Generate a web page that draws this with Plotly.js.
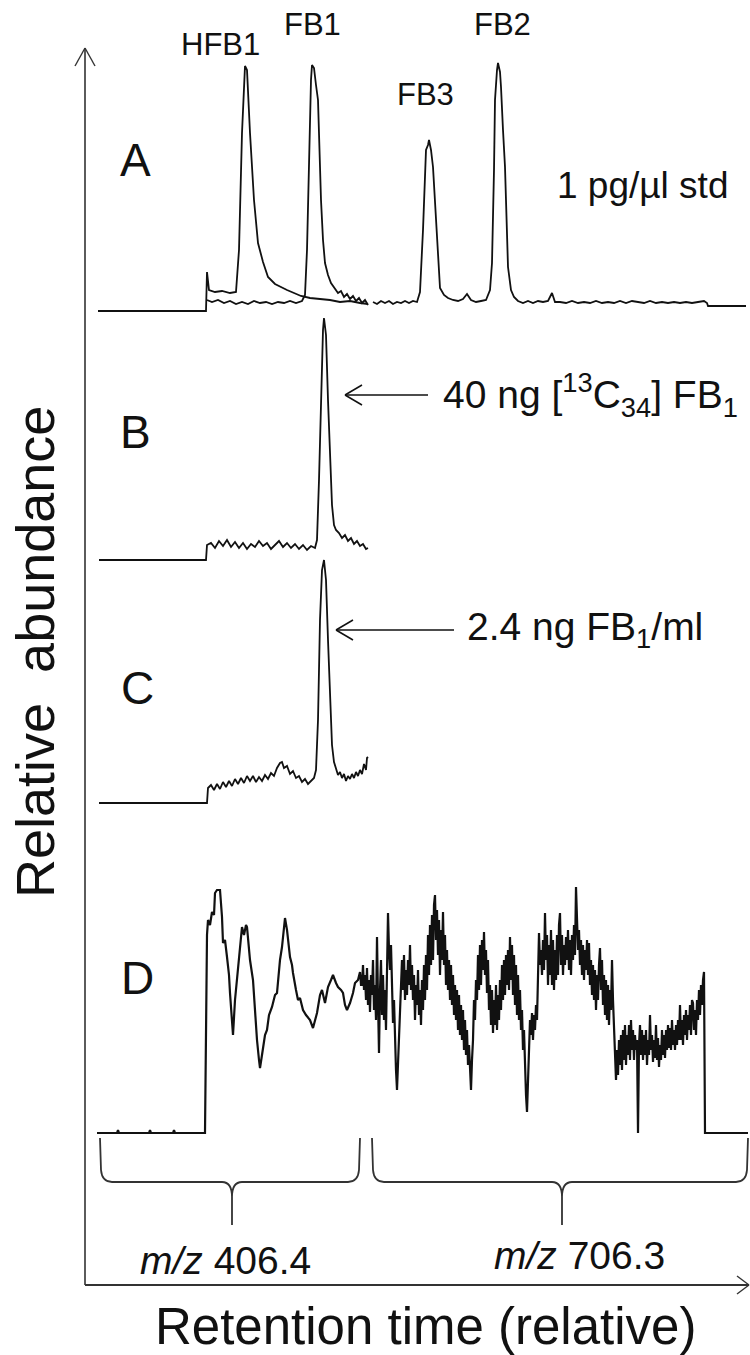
<!DOCTYPE html>
<html><head><meta charset="utf-8">
<script src="https://cdn.plot.ly/plotly-3.0.1.min.js"></script>
<style>html,body{margin:0;padding:0;background:#fff}#chart{width:750px;height:1355px}</style>
</head><body><div id="chart"></div>
<script>
// ---------- DATA (scan number vs. relative abundance, arbitrary units) ----------
// Panel A: 1 pg/µl standard, m/z 406.4 window (two channels) and m/z 706.3 window
const aHfb1Scan  = [13,121,122,124,130,137,145,151,154,157,160,162,165,169,173,178,183,190,202,210,216,225,235,245,255,265,275,283];
const aHfb1Abund = [0,0,39,21,19,20,18,19,61,178,245,241,178,111,68,49,34,27,21,18,15,13,12,11,9,10,8,7];

const aFb1Scan  = [122,127,133,139,145,151,157,163,169,175,181,187,193,199,205,211,217,220,222,224,226,227,229,231,233,236,238,240,243,246,250,253,256,259,262,265,268,271,274,277,280,283];
const aFb1Abund = [11,9,11,8,10,7,9,7,10,8,9,7,9,8,10,8,10,16,61,161,231,246,243,226,211,111,71,48,36,28,22,18,20,14,17,12,15,10,13,8,11,6];

const aFb23Scan  = [288,292,296,300,304,308,312,316,320,324,328,332,335,338,341,343,344,346,348,350,352,355,359,363,368,373,378,382,386,391,396,401,405,407,409,410,412,413,415,416,418,420,423,426,429,433,438,443,448,453,458,463,467,470,475,481,487,493,499,505,511,517,523,529,535,541,547,553,559,565,571,577,583,589,595,601,607,613,619,622,623,661];
const aFb23Abund = [9,7,10,8,10,7,9,8,10,8,10,9,19,81,161,166,171,161,144,111,71,23,16,13,11,10,12,17,11,9,10,11,21,48,141,211,241,248,239,224,181,144,44,21,14,10,8,10,8,10,9,10,18,9,9,8,10,8,9,8,10,8,9,8,10,8,10,9,8,10,8,9,8,9,8,9,8,9,10,8,5,5];

// Panel B: 40 ng [13C34] FB1
const bScan  = [14,121,122,126,130,134,138,142,146,150,154,158,162,166,170,174,178,182,186,190,194,198,202,206,210,214,218,222,226,230,232,234,236,238,239,241,243,245,247,249,251,254,257,260,263,266,269,272,275,278,281,283];
const bAbund = [0,0,15,17,12,19,14,20,13,18,12,17,11,16,13,19,14,17,11,15,19,13,17,12,16,11,15,10,14,12,20,80,170,230,242,225,160,100,55,35,30,27,22,25,19,22,16,19,14,16,11,12];

// Panel C: 2.4 ng FB1/ml sample
const cScan  = [14,122,123,126,129,132,135,138,141,144,147,150,153,156,159,162,165,168,171,174,177,180,183,186,189,192,195,197,199,202,205,208,211,214,217,220,223,226,229,231,233,235,237,239,241,243,245,247,249,251,253,255,257,259,261,263,265,267,269,271,273,275,277,279,281,282,283];
const cAbund = [0,0,15,18,13,19,14,21,16,22,17,24,19,25,20,27,22,27,21,26,22,28,24,30,27,35,40,41,35,37,29,32,25,27,21,24,19,22,25,33,83,183,233,243,223,163,103,58,41,33,28,31,25,29,22,27,24,29,25,31,27,33,29,39,33,45,46];

// Panel D: blank / matrix, both windows
const dScan  = [12,32,33,34,64,65,66,88,89,90,120,121,122,123,125,127,129,130,132,135,137,138,140,142,144,145,147,148,150,152,154,155,157,159,161,162,163,165,168,170,172,174,175,177,180,182,184,187,190,192,195,197,199,200,202,205,207,208,211,213,215,218,221,225,228,230,232,235,237,240,243,246,248,251,253,256,258,260,262,265,268,270,273,275,276];
const dAbund = [0,0,3,0,0,3,0,0,3,0,0,143,198,213,208,221,218,240,243,243,216,190,193,176,158,140,103,98,133,153,173,186,206,198,208,206,196,173,153,120,93,73,65,78,98,103,118,126,138,140,173,186,208,215,203,176,168,160,143,133,135,123,118,113,105,113,120,138,143,130,146,153,158,150,146,143,140,128,123,130,140,150,153,161,148];
const dDenseFirstScan = 277;   // consecutive scans from here
const dDenseAbund = [
148,168,143,158,133,165,128,153,121,158,
138,173,123,148,113,196,133,80,143,173,
118,158,113,143,103,173,220,183,163,188,
148,110,133,83,63,43,73,93,133,153,
173,143,178,133,163,138,173,148,188,143,
168,133,158,113,148,128,163,118,143,108,
153,123,168,133,178,143,198,158,208,168,
218,173,228,238,193,223,178,213,158,203,
173,221,168,198,148,183,143,173,133,168,
128,158,118,148,113,143,103,138,98,128,
93,123,83,113,78,103,68,88,53,43,
73,93,133,113,153,133,178,143,188,148,
193,163,201,158,183,140,173,123,148,108,
143,100,133,108,148,103,138,113,153,123,
168,133,173,138,178,148,183,143,196,153,
188,138,178,128,168,118,158,113,143,103,
123,83,103,58,38,21,53,93,113,98,
120,93,118,103,128,113,163,200,168,183,
158,193,163,220,173,198,148,188,158,203,
148,193,143,183,153,198,158,208,220,168,
198,158,188,168,196,173,203,163,193,158,
198,173,208,178,246,213,183,203,168,193,
158,188,153,183,163,193,158,190,148,173,
138,168,133,163,123,158,133,168,185,143,
173,128,158,118,153,113,148,108,143,123,
173,133,103,73,53,83,58,93,68,98,
63,103,73,108,68,98,78,108,73,113,
83,103,73,98,83,93,0,88,108,78,
103,73,98,78,103,68,93,78,118,83,
98,71,93,75,108,73,95,66,88,73,
103,78,98,75,103,83,108,85,105,83,
113,88,103,83,108,88,113,93,128,93,
113,88,118,98,123,93,118,103,128,98,
133,130,103,123,98,133,113,143,118,148,
128,153,161];
const dTailScan  = [620,663];
const dTailAbund = [0,0];

// Text labels
const peakLabels = ['HFB1','FB1','FB3','FB2'];
const panelLabels = ['A','B','C','D'];
const windowLabels = ['<i>m/z</i> 406.4','<i>m/z</i> 706.3'];

// ---------- LAYOUT GEOMETRY ----------
const W = 750, H = 1355;
const xp = px => px / W;
const yp = py => 1 - py / H;
const FONT = 'Liberation Sans, Arial, Helvetica, sans-serif';
const INK = '#111';

// baseline pixel row of each panel (1 abundance unit = 1 px)
const base = {A: 311, B: 560, C: 803, D: 1133};
function yAx(b, lo, hi) {
  return {domain: [yp(b - lo), yp(b - hi)], range: [lo, hi], visible: false, fixedrange: true, anchor: 'x'};
}

const dScanAll  = dScan.concat(dDenseAbund.map((_, i) => dDenseFirstScan + i), dTailScan);
const dAbundAll = dAbund.concat(dDenseAbund, dTailAbund);

const lineA = {color: INK, width: 1.8};
const traces = [
  {x: aHfb1Scan, y: aHfb1Abund, yaxis: 'y',  mode: 'lines', line: lineA, name: 'HFB1'},
  {x: aFb1Scan,  y: aFb1Abund,  yaxis: 'y',  mode: 'lines', line: lineA, name: 'FB1'},
  {x: aFb23Scan, y: aFb23Abund, yaxis: 'y',  mode: 'lines', line: lineA, name: 'FB3/FB2'},
  {x: bScan,     y: bAbund,     yaxis: 'y2', mode: 'lines', line: lineA, name: 'B'},
  {x: cScan,     y: cAbund,     yaxis: 'y3', mode: 'lines', line: lineA, name: 'C'},
  {x: dScanAll,  y: dAbundAll,  yaxis: 'y4', mode: 'lines', line: {color: INK, width: 2.2}, name: 'D'}
];

function seg(x1, y1, x2, y2, w, c) {
  return {type: 'line', xref: 'paper', yref: 'paper', x0: xp(x1), y0: yp(y1), x1: xp(x2), y1: yp(y2),
          line: {color: c || '#333', width: w || 1.5}};
}
function pathShape(pts, w, c) {
  let d = '';
  pts.forEach(p => {
    d += p[0];
    for (let i = 1; i < p.length; i += 2) d += (i > 1 ? ' ' : '') + xp(p[i]).toFixed(5) + ',' + yp(p[i + 1]).toFixed(5);
    d += ' ';
  });
  return {type: 'path', xref: 'paper', yref: 'paper', path: d.trim(), line: {color: c || '#333', width: w || 1.5}};
}
function brace(xl, xr, xm, yTop, yMid, yTip) {
  return pathShape([
    ['M', xl, yTop], ['L', xl + 1, yMid - 12], ['Q', xl + 2, yMid, xl + 12, yMid],
    ['L', xm - 10, yMid], ['Q', xm, yMid, xm, yMid + 15], ['L', xm, yTip],
    ['M', xm, yMid + 15], ['Q', xm, yMid, xm + 10, yMid],
    ['L', xr - 12, yMid], ['Q', xr - 2, yMid, xr - 1, yMid - 12], ['L', xr, yTop]
  ], 1.8, '#333');
}

const shapes = [
  seg(85, 1285, 85, 48, 1.6), seg(85, 48, 75, 66, 1.4), seg(85, 48, 95, 66, 1.4),
  seg(85, 1285, 749, 1285, 2), seg(749, 1285, 737, 1276, 1.4), seg(749, 1285, 737, 1294, 1.4),
  brace(100, 360, 232, 1138, 1182, 1225),
  brace(372, 748, 562, 1138, 1182, 1225),
  seg(345, 395, 428, 395, 1.5, INK), seg(345, 395, 362, 385, 1.5, INK), seg(345, 395, 362, 405, 1.5, INK),
  seg(336, 630, 454, 630, 1.5, INK), seg(336, 630, 353, 620, 1.5, INK), seg(336, 630, 353, 640, 1.5, INK)
];

function ann(text, px, py, size, opts) {
  return Object.assign({text: text, x: xp(px), y: yp(py), xref: 'paper', yref: 'paper', showarrow: false,
    xanchor: 'center', yanchor: 'middle', font: {family: FONT, size: size, color: INK}}, opts || {});
}
const annotations = [
  ann(peakLabels[0], 220, 44, 31), ann(peakLabels[1], 312, 25, 31),
  ann(peakLabels[2], 426, 95, 31), ann(peakLabels[3], 502, 25, 31),
  ann(panelLabels[0], 135, 160, 46), ann(panelLabels[1], 135, 432, 46),
  ann(panelLabels[2], 137, 688, 46), ann(panelLabels[3], 137, 978, 46),
  ann('1 pg/µl std', 642, 185, 37),
  ann('40 ng [<sup>13</sup>C<sub>34</sub>] FB<sub>1</sub>', 441, 395, 39, {xanchor: 'left'}),
  ann('2.4 ng FB<sub>1</sub>/ml', 465, 630, 39, {xanchor: 'left'}),
  ann(windowLabels[0], 225, 1260, 39), ann(windowLabels[1], 579, 1255, 39),
  ann('Relative  abundance', 35, 652, 54, {textangle: -90}),
  ann('Retention time (relative)', 426, 1326, 51)
];

const layout = {
  width: W, height: H, margin: {l: 0, r: 0, t: 0, b: 0},
  paper_bgcolor: '#fff', plot_bgcolor: 'rgba(0,0,0,0)',
  showlegend: false,
  xaxis: {range: [-85, 665], visible: false, fixedrange: true, domain: [0, 1]},
  yaxis:  yAx(base.A, -10, 262),
  yaxis2: yAx(base.B, -10, 250),
  yaxis3: yAx(base.C, -10, 250),
  yaxis4: yAx(base.D, -10, 255),
  shapes: shapes, annotations: annotations
};
Plotly.newPlot('chart', traces, layout, {staticPlot: true, displayModeBar: false});
</script></body></html>
